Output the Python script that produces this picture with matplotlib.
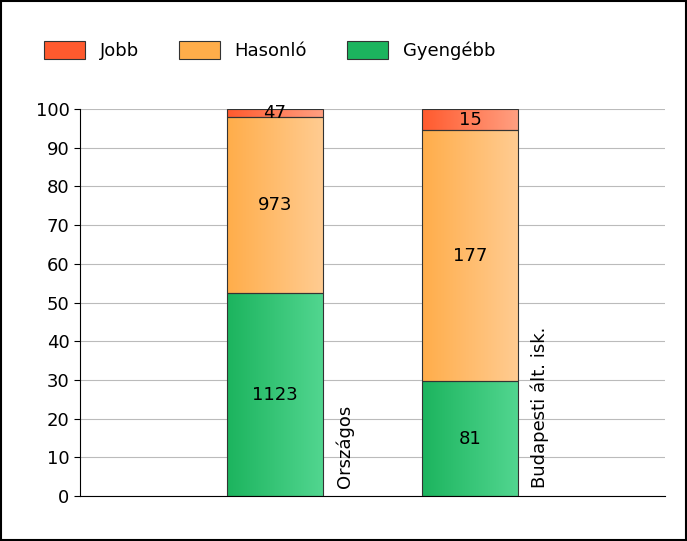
import numpy as np
import matplotlib.pyplot as plt
from matplotlib.patches import Rectangle
from matplotlib.colors import LinearSegmentedColormap

categories = ["Országos", "Budapesti ált. isk."]
series = ["Gyengébb", "Hasonló", "Jobb"]
counts = {
    "Gyengébb": [1123, 81],
    "Hasonló": [973, 177],
    "Jobb": [47, 15],
}
grad = {
    "Gyengébb": ("#1cb45e", "#52d690"),
    "Hasonló": ("#ffad4a", "#ffcc92"),
    "Jobb": ("#ff5a2e", "#ffa082"),
}

fig = plt.figure(figsize=(6.87, 5.41), dpi=100)
fig.patches.append(Rectangle((0.002, 0.002), 0.996, 0.996, transform=fig.transFigure,
                             fill=False, edgecolor="black", linewidth=1.5))
ax = fig.add_axes([80 / 687, 45 / 541, 585 / 687, 387 / 541])

totals = np.sum([counts[s] for s in series], axis=0)
xs = [2, 4]
w = 0.99
grid_img = np.linspace(0, 1, 256).reshape(1, -1)
for i, x in enumerate(xs):
    bottom = 0
    for s in series:
        pct = counts[s][i] / totals[i] * 100
        cmap = LinearSegmentedColormap.from_list(s, grad[s])
        ax.imshow(grid_img, cmap=cmap, aspect="auto",
                  extent=(x - w / 2, x + w / 2, bottom, bottom + pct), zorder=2)
        ax.add_patch(Rectangle((x - w / 2, bottom), w, pct, fill=False,
                               edgecolor="#333333", linewidth=0.8, zorder=3))
        ax.text(x, bottom + pct / 2, str(counts[s][i]), ha="center", va="center",
                fontsize=13, zorder=4)
        bottom += pct
    ax.text(x + 0.72, 2, categories[i], rotation=90, ha="center", va="bottom",
            fontsize=13)

ax.set_xlim(0, 6)
ax.set_ylim(0, 100)
ax.set_yticks(range(0, 101, 10))
ax.set_xticks([])
ax.tick_params(axis="y", labelsize=13, length=4)
ax.grid(axis="y", color="#bbbbbb", linewidth=0.8, zorder=0)
ax.set_axisbelow(True)
for sp in ["top", "right"]:
    ax.spines[sp].set_visible(False)

handles = [Rectangle((0, 0), 1, 1, facecolor=grad[s][0], edgecolor="#333333", linewidth=0.8)
           for s in ["Jobb", "Hasonló", "Gyengébb"]]
fig.legend(handles, ["Jobb", "Hasonló", "Gyengébb"], loc="upper left",
           bbox_to_anchor=(0.04, 0.955), ncol=3, frameon=False, fontsize=13,
           handlelength=2.3, handleheight=1.2, columnspacing=2.2)

fig.savefig("out.png", dpi=100)
